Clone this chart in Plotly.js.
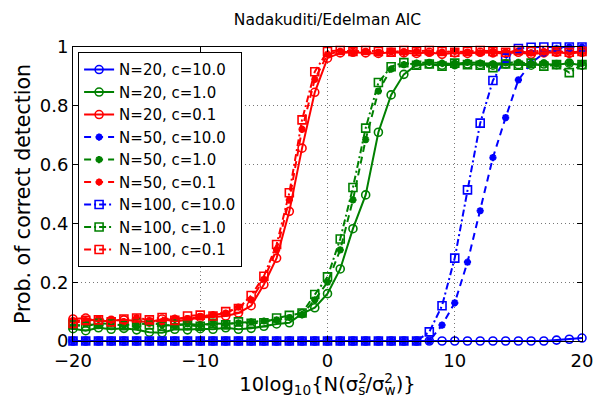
<!DOCTYPE html>
<html>
<head>
<meta charset="utf-8">
<script src="https://cdn.plot.ly/plotly-3.0.1.min.js"></script>
<style>
  html, body { margin: 0; padding: 0; background: #fff; }
  #chart { width: 597px; height: 398px; }
</style>
</head>
<body>
<div id="chart"></div>
<script>
// SNR grid in dB: 10log10(N * sigma_s^2 / sigma_w^2)
const snrDb = [-20,-19,-18,-17,-16,-15,-14,-13,-12,-11,-10,-9,-8,-7,-6,-5,-4,-3,-2,-1,
               0,1,2,3,4,5,6,7,8,9,10,11,12,13,14,15,16,17,18,19,20];

// Probability of correct detection, N = 20
const n20c10 = [0,0,0,0,0,0,0,0,0,0,0,0,0,0,0,0,0,0,0,0,
                0,0,0,0,0,0,0,0,0,0,0,0,0,0,0,0,0,0,0.003,0.006,0.010];
const n20c1 = [0.042,0.035,0.045,0.040,0.043,0.038,0.030,0.028,0.040,0.038,0.042,0.040,0.045,0.040,0.043,0.050,0.058,0.062,0.093,0.113,
               0.161,0.245,0.382,0.497,0.710,0.837,0.907,0.940,0.942,0.938,0.940,0.942,0.940,0.938,0.942,0.940,0.938,0.942,0.940,0.945,0.938];
const n20c01 = [0.075,0.078,0.066,0.070,0.072,0.068,0.064,0.075,0.066,0.072,0.080,0.082,0.085,0.095,0.120,0.192,0.282,0.441,0.656,0.846,
                0.962,0.980,0.982,0.980,0.978,0.982,0.980,0.978,0.982,0.975,0.980,0.978,0.982,0.980,0.978,0.982,0.975,0.980,0.982,0.978,0.982];

// N = 50
const n50c10 = [0,0,0,0,0,0,0,0,0,0,0,0,0,0,0,0,0,0,0,0,
                0,0,0,0,0,0,0,0,0,0.054,0.130,0.268,0.443,0.624,0.760,0.888,0.945,0.979,0.995,1.0,1.0];
const n50c1 = [0.050,0.058,0.052,0.060,0.055,0.050,0.062,0.055,0.052,0.058,0.055,0.060,0.058,0.062,0.065,0.068,0.072,0.080,0.090,0.140,
               0.200,0.310,0.480,0.685,0.850,0.925,0.940,0.945,0.948,0.945,0.942,0.948,0.945,0.943,0.946,0.948,0.944,0.945,0.942,0.946,0.944];
const n50c01 = [0.070,0.068,0.075,0.070,0.066,0.080,0.070,0.065,0.078,0.075,0.082,0.090,0.095,0.115,0.140,0.210,0.310,0.480,0.720,0.890,
                0.975,0.985,0.982,0.985,0.980,0.984,0.982,0.985,0.980,0.983,0.985,0.982,0.980,0.984,0.982,0.985,0.980,0.983,0.985,0.982,0.984];

// N = 100
const n100c10 = [0,0,0,0,0,0,0,0,0,0,0,0,0,0,0,0,0,0,0,0,
                 0,0,0,0,0,0,0,0,0.031,0.120,0.282,0.514,0.741,0.886,0.962,0.995,0.999,1.0,1.0,1.0,1.0];
const n100c1 = [0.055,0.050,0.060,0.058,0.052,0.062,0.055,0.050,0.058,0.055,0.050,0.060,0.055,0.065,0.060,0.062,0.078,0.087,0.095,0.158,
                0.218,0.347,0.522,0.724,0.879,0.933,0.947,0.938,0.942,0.935,0.945,0.940,0.938,0.930,0.942,0.938,0.945,0.935,0.940,0.913,0.940];
const n100c01 = [0.060,0.070,0.072,0.065,0.075,0.078,0.072,0.080,0.070,0.085,0.088,0.085,0.100,0.110,0.155,0.220,0.328,0.504,0.752,0.916,
                 0.985,0.988,0.985,0.988,0.985,0.982,0.988,0.985,0.988,0.985,0.982,0.985,0.988,0.985,0.982,0.988,0.985,0.988,0.985,0.982,0.985];

const seriesNames = ['N=20, c=10.0','N=20, c=1.0','N=20, c=0.1',
                     'N=50, c=10.0','N=50, c=1.0','N=50, c=0.1',
                     'N=100, c=10.0','N=100, c=1.0','N=100, c=0.1'];
const seriesValues = [n20c10, n20c1, n20c01, n50c10, n50c1, n50c01, n100c10, n100c1, n100c01];

const colors = ['#0000ff', '#008000', '#ff0000'];
// solid / dashed / dash-dot per N, with circle / asterisk / square markers
const styleByN = [
  { dash: 'solid',           symbol: 'circle-open',   size: 8, mlw: 1.6 },
  { dash: '7px,5px',         symbol: 'asterisk-open', size: 6, mlw: 2.2 },
  { dash: '7px,3px,2px,3px', symbol: 'square-open',   size: 8, mlw: 1.6 }
];

const traces = seriesValues.map((vals, i) => {
  const st = styleByN[Math.floor(i / 3)];
  const col = colors[i % 3];
  return {
    x: snrDb,
    y: vals,
    name: seriesNames[i],
    type: 'scatter',
    mode: 'lines+markers',
    cliponaxis: false,
    line: { color: col, width: 2, dash: st.dash },
    marker: { symbol: st.symbol, size: st.size, color: col, line: { color: col, width: st.mlw } }
  };
});

const baseFont = { family: 'DejaVu Sans, sans-serif', color: '#000' };

// stacked super/subscript on sigma: the superscript pulls the following subscript back under it
const sig = (sub) => 'σ<sup><span style="letter-spacing:-8.5px">2</span></sup><sub>' + sub + '</sub>';

const layout = {
  width: 597,
  height: 398,
  margin: { l: 73, r: 15, t: 47, b: 57 },
  paper_bgcolor: '#fff',
  plot_bgcolor: '#fff',
  showlegend: true,
  title: {
    text: 'Nadakuditi/Edelman AIC',
    font: Object.assign({ size: 15.5 }, baseFont),
    x: 0.5, xref: 'paper', xanchor: 'center',
    y: 0.95, yref: 'container', yanchor: 'middle'
  },
  xaxis: {
    range: [-20, 20],
    tickvals: [-20, -10, 0, 10, 20],
    ticktext: ['\u221220', '\u221210', '0', '10', '20'],
    ticks: 'inside', ticklen: 5, tickwidth: 1, tickcolor: '#000',
    ticklabelstandoff: 3,
    showline: true, linecolor: '#000', linewidth: 1, mirror: 'allticks',
    showgrid: true, gridcolor: '#777', gridwidth: 1, griddash: '1px,3px',
    zeroline: false,
    tickfont: Object.assign({ size: 18 }, baseFont),
    title: {
      text: '10log<sub>10</sub>{N(' + sig('s') + '/' + sig('w') + ')}',
      font: Object.assign({ size: 19.5 }, baseFont),
      standoff: 1
    }
  },
  yaxis: {
    range: [0, 1],
    tickvals: [0, 0.2, 0.4, 0.6, 0.8, 1],
    ticktext: ['0', '0.2', '0.4', '0.6', '0.8', '1'],
    ticks: 'inside', ticklen: 5, tickwidth: 1, tickcolor: '#000',
    showline: true, linecolor: '#000', linewidth: 1, mirror: 'allticks',
    showgrid: true, gridcolor: '#777', gridwidth: 1, griddash: '1px,3px',
    zeroline: false,
    tickfont: Object.assign({ size: 18 }, baseFont),
    title: {
      text: 'Prob. of correct detection',
      font: Object.assign({ size: 20.5 }, baseFont),
      standoff: 3
    }
  },
  legend: {
    x: 0.01, y: 0.982, xanchor: 'left', yanchor: 'top',
    bgcolor: '#fff', bordercolor: '#000', borderwidth: 1,
    font: Object.assign({ size: 15 }, baseFont),
    tracegroupgap: 0,
    itemwidth: 30
  }
};

Plotly.newPlot('chart', traces, layout, { displayModeBar: false, staticPlot: true });
</script>
</body>
</html>
